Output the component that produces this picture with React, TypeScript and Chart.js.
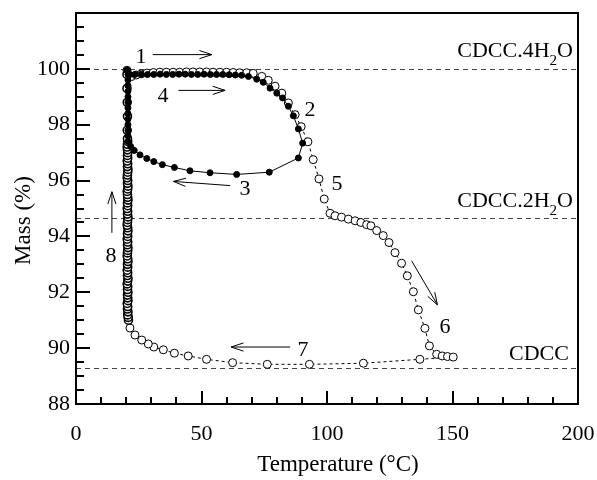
import React, { useEffect, useRef } from "react";
import { Chart, registerables } from "chart.js";
Chart.register(...registerables);

// ---------- data ----------
// open circles: first heating (1 -> 2 -> 5 -> 6)
const heatT = [20.3, 22, 24, 26, 28.3, 30.8, 33.4, 36, 38.7, 41.3, 44, 46.6, 49.3, 52, 54.6, 57.3, 60, 62.6, 65.2, 68, 70.6, 74, 76.6, 79.3, 82, 84.6, 87.3, 89.7, 92.4, 94.5, 96.8, 98.9, 101.2, 103.2, 105.8, 108.5, 111.2, 113.5, 115.8, 117.5, 119.8, 122.4, 124.7, 127.1, 129.7, 132, 134.4, 136.4, 139, 140.8, 143.7, 145.9, 148, 150.3];
const heatM = [99.95, 99.72, 99.78, 99.82, 99.85, 99.87, 99.88, 99.88, 99.88, 99.88, 99.89, 99.89, 99.89, 99.89, 99.88, 99.88, 99.88, 99.87, 99.86, 99.86, 99.84, 99.73, 99.59, 99.38, 99.13, 98.78, 98.36, 97.93, 97.39, 96.75, 96.06, 95.34, 94.83, 94.74, 94.69, 94.62, 94.56, 94.5, 94.42, 94.38, 94.21, 94.03, 93.78, 93.42, 93.04, 92.59, 92.02, 91.37, 90.71, 90.08, 89.78, 89.72, 89.7, 89.68];
// open circles: cooling (7)
const coolT = [137, 114.5, 93, 76.2, 62.4, 52, 44.7, 39.2, 34.8, 31, 28.8, 26.2, 23.5, 21.5];
const coolM = [89.6, 89.46, 89.42, 89.42, 89.48, 89.6, 89.72, 89.82, 89.94, 90.04, 90.15, 90.29, 90.47, 90.72];
// open circles: rehydration at constant temperature (8)
const rehydT = [
  20.9, 20.8, 20.6, 20.7, 20.5, 20.6, 20.4, 20.7, 20.6, 20.5,
  20.7, 20.5, 20.6, 20.4, 20.6, 20.7, 20.5, 20.6, 20.4, 20.6,
  20.5, 20.7, 20.6, 20.4, 20.5, 20.6, 20.7, 20.5, 20.6, 20.4,
  20.6, 20.5, 20.7, 20.6, 20.4, 20.5, 20.6, 20.7, 20.5, 20.6,
  20.4, 20.6, 20.5, 20.7, 20.6, 20.5, 20.4, 20.6, 20.7, 20.5,
  20.6, 20.4, 20.5, 20.6, 20.7, 20.5, 20.6, 20.4, 20.6, 20.5,
  20.6, 20.5, 20.4, 20.5, 20.6, 20.5, 20.4, 20.5, 20.4, 20.3,
  20.3,
];
const rehydM = [
  91.0, 91.1, 91.19, 91.3, 91.4, 91.49, 91.6, 91.7, 91.8, 91.9,
  92.0, 92.1, 92.21, 92.3, 92.4, 92.5, 92.6, 92.7, 92.79, 92.9,
  93.0, 93.1, 93.2, 93.3, 93.41, 93.5, 93.6, 93.7, 93.8, 93.9,
  94.0, 94.1, 94.2, 94.31, 94.4, 94.5, 94.6, 94.7, 94.8, 94.9,
  95.0, 95.1, 95.2, 95.3, 95.4, 95.5, 95.61, 95.7, 95.8, 95.9,
  96.0, 96.1, 96.2, 96.3, 96.4, 96.5, 96.6, 96.7, 96.8, 96.9,
  97.0, 97.1, 97.2, 97.3, 97.4, 97.5, 97.8, 98.3, 98.8, 99.3,
  99.8,
];
// filled circles: second heating (4 -> 2), cooling (3), rehydration
const loopT = [20.2, 21.5, 23.5, 26, 28.5, 31, 33.5, 36, 38.5, 41, 43.5, 46, 48.5, 51, 53.5, 56, 58.5, 61, 63.5, 66, 68.7, 72, 74.6, 77.3, 80, 82.3, 84.6, 86.6, 88.6, 90.3, 88.6, 77, 64, 53.4, 45.4, 39.2, 34.4, 31, 28.2, 25.5, 23.2, 21.8, 20.7, 20.7, 20.7, 20.7, 20.7, 20.7, 20.7, 20.7, 20.7, 20.7, 20.7, 20.7, 20.7, 20.5];
const loopM = [99.95, 99.8, 99.8, 99.81, 99.8, 99.8, 99.81, 99.8, 99.8, 99.81, 99.81, 99.8, 99.8, 99.81, 99.8, 99.8, 99.8, 99.79, 99.78, 99.77, 99.73, 99.63, 99.52, 99.31, 99.13, 98.96, 98.66, 98.32, 97.85, 97.34, 96.81, 96.3, 96.22, 96.28, 96.35, 96.47, 96.57, 96.68, 96.79, 96.92, 97.08, 97.22, 97.4, 97.6, 97.8, 98.0, 98.2, 98.4, 98.6, 98.8, 99.0, 99.2, 99.4, 99.6, 99.8, 99.95];

// axes
const xMin = 0, xMax = 200, xStep = 10, xMajor = 50;
const yMin = 88, yMax = 102, yStep = 0.5, yMajor = 2, yLabelMax = 100;
const xTitle = "Temperature (°C)";
const yTitle = "Mass (%)";

// reference levels and their names (main, subscript, tail)
const refLevels = [100, 94.65, 89.3];
const refMain = ["CDCC.4H", "CDCC.2H", "CDCC"];
const refSub = ["2", "2", ""];
const refTail = ["O", "O", ""];
const refTextT = [198, 198, 196.4];
const refTextM = [100.44, 95.07, 89.58];

// step numbers
const stepNames = ["1", "2", "3", "4", "5", "6", "7", "8"];
const stepT = [25.9, 93.2, 67.3, 34.7, 104, 147, 90.4, 13.9];
const stepM = [100.47, 98.54, 95.71, 99.07, 95.89, 90.8, 89.97, 93.34];

// arrows
const arrowFromT = [30.6, 40.8, 61.4, 14.3, 133.7, 85.3];
const arrowFromM = [100.51, 99.23, 95.82, 94.13, 93.13, 90.04];
const arrowToT = [54.1, 59.4, 38.8, 14.3, 144, 61.8];
const arrowToM = [100.51, 99.23, 95.97, 95.6, 91.55, 90.04];

const SERIF = '"Liberation Serif", "Times New Roman", Tinos, "DejaVu Serif", serif';
const FS = 22;

function pts(tx: number[], my: number[]) {
  return tx.map((t, i) => ({ x: t, y: my[i] }));
}

const decor = {
  id: "decor",
  beforeDatasetsDraw(chart: any) {
    const { ctx, chartArea: a, scales } = chart;
    const y = scales.y;
    ctx.save();
    ctx.strokeStyle = "#444";
    ctx.lineWidth = 1;
    ctx.setLineDash([5, 4]);
    refLevels.forEach((v) => {
      const py = Math.round(y.getPixelForValue(v)) + 0.5;
      ctx.beginPath();
      ctx.moveTo(a.left, py);
      ctx.lineTo(a.right, py);
      ctx.stroke();
    });
    ctx.restore();
  },
  afterDraw(chart: any) {
    const { ctx, chartArea: a, scales } = chart;
    const x = scales.x, y = scales.y;
    ctx.save();
    // frame
    ctx.strokeStyle = "#000";
    ctx.lineWidth = 2;
    ctx.setLineDash([]);
    ctx.strokeRect(a.left, a.top, a.right - a.left, a.bottom - a.top);
    // inward ticks
    ctx.beginPath();
    x.ticks.forEach((t: any) => {
      const px = Math.round(x.getPixelForValue(t.value));
      const major = Math.abs(t.value % xMajor) < 1e-6;
      ctx.moveTo(px, a.bottom);
      ctx.lineTo(px, a.bottom - (major ? 13 : 7));
    });
    y.ticks.forEach((t: any) => {
      const py = Math.round(y.getPixelForValue(t.value));
      const major = Math.abs(t.value % yMajor) < 1e-6;
      ctx.moveTo(a.left, py);
      ctx.lineTo(a.left + (major ? 14 : 8), py);
    });
    ctx.stroke();

    // reference level names
    ctx.fillStyle = "#000";
    ctx.textBaseline = "alphabetic";
    refMain.forEach((m, i) => {
      ctx.font = `${FS}px ${SERIF}`;
      const wm = ctx.measureText(m).width;
      const wt = ctx.measureText(refTail[i]).width;
      ctx.font = `${Math.round(FS * 0.68)}px ${SERIF}`;
      const ws = refSub[i] ? ctx.measureText(refSub[i]).width : 0;
      const right = x.getPixelForValue(refTextT[i]);
      const base = y.getPixelForValue(refTextM[i]);
      let sx = right - (wm + ws + wt);
      ctx.font = `${FS}px ${SERIF}`;
      ctx.textAlign = "left";
      ctx.fillText(m, sx, base);
      sx += wm;
      if (refSub[i]) {
        ctx.font = `${Math.round(FS * 0.68)}px ${SERIF}`;
        ctx.fillText(refSub[i], sx, base + 8);
        sx += ws;
      }
      ctx.font = `${FS}px ${SERIF}`;
      ctx.fillText(refTail[i], sx, base);
    });

    // step numbers
    ctx.font = `${FS}px ${SERIF}`;
    ctx.textAlign = "center";
    ctx.textBaseline = "middle";
    stepNames.forEach((s, i) => {
      ctx.fillText(s, x.getPixelForValue(stepT[i]), y.getPixelForValue(stepM[i]) + 1);
    });

    // arrows
    ctx.lineWidth = 1;
    ctx.strokeStyle = "#000";
    arrowFromT.forEach((t, i) => {
      const x0 = x.getPixelForValue(t), y0 = y.getPixelForValue(arrowFromM[i]);
      const x1 = x.getPixelForValue(arrowToT[i]), y1 = y.getPixelForValue(arrowToM[i]);
      const ang = Math.atan2(y1 - y0, x1 - x0);
      const L = 13, sp = 0.32;
      ctx.beginPath();
      ctx.moveTo(x0, y0);
      ctx.lineTo(x1, y1);
      ctx.moveTo(x1 - L * Math.cos(ang - sp), y1 - L * Math.sin(ang - sp));
      ctx.lineTo(x1, y1);
      ctx.lineTo(x1 - L * Math.cos(ang + sp), y1 - L * Math.sin(ang + sp));
      ctx.stroke();
    });

    // axis titles
    ctx.font = `${FS + 1}px ${SERIF}`;
    ctx.textAlign = "center";
    ctx.textBaseline = "middle";
    ctx.fillText(xTitle, (a.left + a.right) / 2 + 11, 465);
    ctx.translate(24, (a.top + a.bottom) / 2 + 12);
    ctx.rotate(-Math.PI / 2);
    ctx.fillText(yTitle, 0, 0);
    ctx.restore();
  },
};

export default function App() {
  const ref = useRef<HTMLCanvasElement | null>(null);
  useEffect(() => {
    if (!ref.current) return;
    let chart: any = null;
    let cancelled = false;
    const build = () => {
      if (cancelled || !ref.current) return;
      const openData = [...pts(heatT, heatM), ...pts(coolT, coolM), ...pts(rehydT, rehydM)];
      const columnStart = heatT.length + coolT.length;
      const filledData = pts(loopT, loopM);
      chart = new Chart(ref.current, {
        type: "line",
        data: {
          datasets: [
            {
              label: "filled",
              data: filledData,
              order: 0,
              borderColor: "#000",
              borderWidth: 1,
              pointRadius: 3,
              pointBorderWidth: 1,
              pointBackgroundColor: "#000",
              pointBorderColor: "#000",
              tension: 0,
            },
            {
              label: "open",
              data: openData,
              order: 1,
              borderColor: "#000",
              borderWidth: 1,
              borderDash: [3, 3],
              pointRadius: 4,
              pointBorderWidth: (c: any) => (c.dataIndex >= columnStart ? 1.6 : 1),
              pointBackgroundColor: "#fff",
              pointBorderColor: "#000",
              tension: 0,
            },
          ],
        },
        options: {
          responsive: false,
          animation: false,
          parsing: false as any,
          layout: { padding: { top: 13, right: 19, left: 0, bottom: 0 } },
          plugins: { legend: { display: false }, tooltip: { enabled: false } },
          scales: {
            x: {
              type: "linear",
              min: xMin,
              max: xMax,
              grid: { display: false, drawTicks: false },
              border: { display: false },
              afterFit: (s: any) => {
                s.height = 76;
                s.paddingLeft = 0;
                s.paddingRight = 0;
              },
              ticks: {
                stepSize: xStep,
                autoSkip: false,
                maxRotation: 0,
                maxTicksLimit: 100,
                padding: 17,
                color: "#000",
                font: { family: SERIF, size: FS },
                callback: (v: any) => (Math.abs(Number(v) % xMajor) < 1e-6 ? String(v) : ""),
              },
            },
            y: {
              type: "linear",
              min: yMin,
              max: yMax,
              grid: { display: false, drawTicks: false },
              border: { display: false },
              afterFit: (s: any) => {
                s.width = 76;
                s.paddingTop = 0;
                s.paddingBottom = 0;
              },
              ticks: {
                stepSize: yStep,
                autoSkip: false,
                maxTicksLimit: 100,
                padding: 6,
                color: "#000",
                font: { family: SERIF, size: FS },
                callback: (v: any) => {
                  const n = Number(v);
                  return Math.abs(n % yMajor) < 1e-6 && n <= yLabelMax ? String(n) : "";
                },
              },
            },
          },
        },
        plugins: [decor],
      });
    };
    const fonts: any = (document as any).fonts;
    if (fonts && fonts.load) {
      Promise.all([
        fonts.load(`${FS}px "Liberation Serif"`),
        fonts.load(`${Math.round(FS * 0.68)}px "Liberation Serif"`),
      ]).then(build, build);
    } else {
      build();
    }
    return () => {
      cancelled = true;
      if (chart) chart.destroy();
    };
  }, []);
  return (
    <div style={{ position: "fixed", left: 0, top: 0, width: 597, height: 480, background: "#fff" }}>
      <span style={{ fontFamily: '"Liberation Serif"', position: "absolute", left: -9999, top: 0 }}>0</span>
      <canvas ref={ref} width={597} height={480} style={{ display: "block" }} />
    </div>
  );
}
